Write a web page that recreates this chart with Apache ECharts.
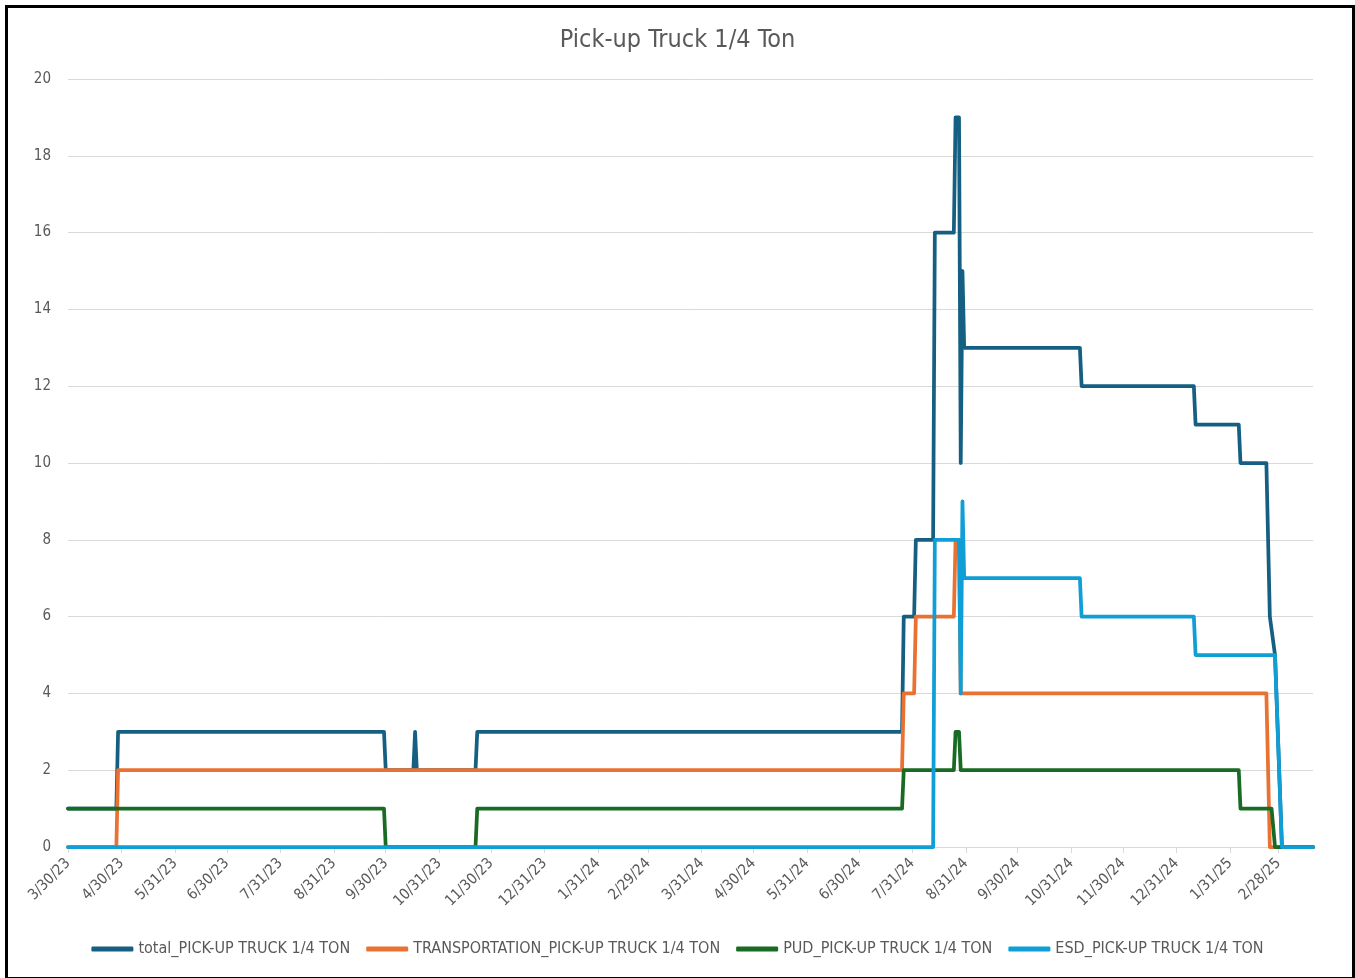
<!DOCTYPE html>
<html>
<head>
<meta charset="utf-8">
<script src="https://cdn.jsdelivr.net/npm/echarts@6/dist/echarts.min.js"></script>
<style>
html,body{margin:0;padding:0;background:#fff;}
#chart{width:1355px;height:978px;}
</style>
</head>
<body>
<div id="chart"></div>
<script>
// ---- data (dates as M/D/YY) ----
const tickLabels = ['3/30/23','4/30/23','5/31/23','6/30/23','7/31/23','8/31/23','9/30/23','10/31/23','11/30/23','12/31/23','1/31/24','2/29/24','3/31/24','4/30/24','5/31/24','6/30/24','7/31/24','8/31/24','9/30/24','10/31/24','11/30/24','12/31/24','1/31/25','2/28/25'];
const axisStart = '3/30/23';
const axisEnd = '3/20/25';

const seriesNames = ['total_PICK-UP TRUCK 1/4 TON','TRANSPORTATION_PICK-UP TRUCK 1/4 TON','PUD_PICK-UP TRUCK 1/4 TON','ESD_PICK-UP TRUCK 1/4 TON'];

const totalDates = ['3/30/23','4/27/23','4/28/23','9/29/23','9/30/23','10/16/23','10/17/23','10/18/23','11/21/23','11/22/23','7/25/24','7/26/24','8/1/24','8/2/24','8/12/24','8/13/24','8/24/24','8/25/24','8/27/24','8/28/24','8/29/24','8/30/24','11/5/24','11/6/24','1/10/25','1/11/25','2/5/25','2/6/25','2/21/25','2/23/25','2/24/25','2/26/25','3/2/25','3/20/25'];
const totalValues = [1,1,3,3,2,2,3,2,2,3,3,6,6,8,8,16,16,19,19,10,15,13,13,12,12,11,11,10,10,6,6,5,0,0];

const transDates = ['3/30/23','4/27/23','4/28/23','7/25/24','7/26/24','8/1/24','8/2/24','8/24/24','8/25/24','8/27/24','8/28/24','2/21/25','2/23/25','3/20/25'];
const transValues = [0,0,2,2,4,4,6,6,8,8,4,4,0,0];

const pudDates = ['3/30/23','9/29/23','9/30/23','11/21/23','11/22/23','7/25/24','7/26/24','8/24/24','8/25/24','8/27/24','8/28/24','2/5/25','2/6/25','2/24/25','2/26/25','3/20/25'];
const pudValues = [1,1,0,0,1,1,2,2,3,3,2,2,1,1,0,0];

const esdDates = ['3/30/23','8/12/24','8/13/24','8/27/24','8/28/24','8/29/24','8/30/24','11/5/24','11/6/24','1/10/25','1/11/25','2/26/25','3/2/25','3/20/25'];
const esdValues = [0,0,8,8,4,9,7,7,6,6,5,5,0,0];

const colors = ['#156082','#E97132','#196B24','#0F9ED5'];

// ---- helpers ----
function parseMDY(s){
  const p = s.split('/').map(Number);
  return Date.UTC(2000 + p[2], p[0]-1, p[1]);
}
function pairs(dates, vals){ return dates.map((d,i)=>[parseMDY(d), vals[i]]); }
const tickValues = tickLabels.map(parseMDY);
const labelByValue = {};
tickLabels.forEach((l,i)=>{ labelByValue[tickValues[i]] = l; });

const FONT = "'Liberation Sans Narrow','DejaVu Sans Condensed','Roboto',sans-serif";

const chart = echarts.init(document.getElementById('chart'));
const dataSets = [pairs(totalDates,totalValues), pairs(transDates,transValues), pairs(pudDates,pudValues), pairs(esdDates,esdValues)];

chart.setOption({
  animation:false,
  backgroundColor:'#ffffff',
  color: colors,
  title:{
    text:'Pick-up Truck 1/4 Ton',
    left:'center', top:28, padding:0,
    textStyle:{fontFamily:FONT, fontSize:25, fontWeight:'normal', color:'#595959'}
  },
  legend:{
    bottom:16, left:'center',
    itemWidth:42, itemHeight:5, itemGap:16,
    icon:'roundRect',
    data: seriesNames,
    textStyle:{fontFamily:FONT, fontSize:16, color:'#595959'}
  },
  grid:{left:68, right:42, top:79, bottom:131, containLabel:false},
  xAxis:{
    type:'value',
    min: parseMDY(axisStart),
    max: parseMDY(axisEnd),
    axisLine:{show:true, onZero:false, lineStyle:{color:'#d9d9d9', width:1}},
    axisTick:{show:true, length:6, lineStyle:{color:'#d9d9d9'}, customValues: tickValues},
    axisLabel:{
      customValues: tickValues,
      rotate:45, margin:14,
      fontFamily:FONT, fontSize:15, color:'#595959',
      hideOverlap:false,
      formatter: function(v){ return labelByValue[v] !== undefined ? labelByValue[v] : ''; }
    },
    splitLine:{show:false}
  },
  yAxis:{
    type:'value', min:0, max:20, interval:2,
    axisLine:{show:false}, axisTick:{show:false},
    axisLabel:{fontFamily:FONT, fontSize:15, color:'#595959', margin:17},
    splitLine:{lineStyle:{color:'#d9d9d9', width:1}}
  },
  series: seriesNames.map((n,i)=>({
    name:n, type:'line', data:dataSets[i],
    showSymbol:false, symbol:'none',
    lineStyle:{width:3.75, color:colors[i], join:'round', cap:'round'},
    itemStyle:{color:colors[i]},
    z: 2 + i
  })),
  graphic:[{
    type:'rect', left:4, top:4,
    shape:{width:1347, height:972},
    style:{fill:'none', stroke:'#000', lineWidth:3},
    silent:true
  }]
});
</script>
</body>
</html>
